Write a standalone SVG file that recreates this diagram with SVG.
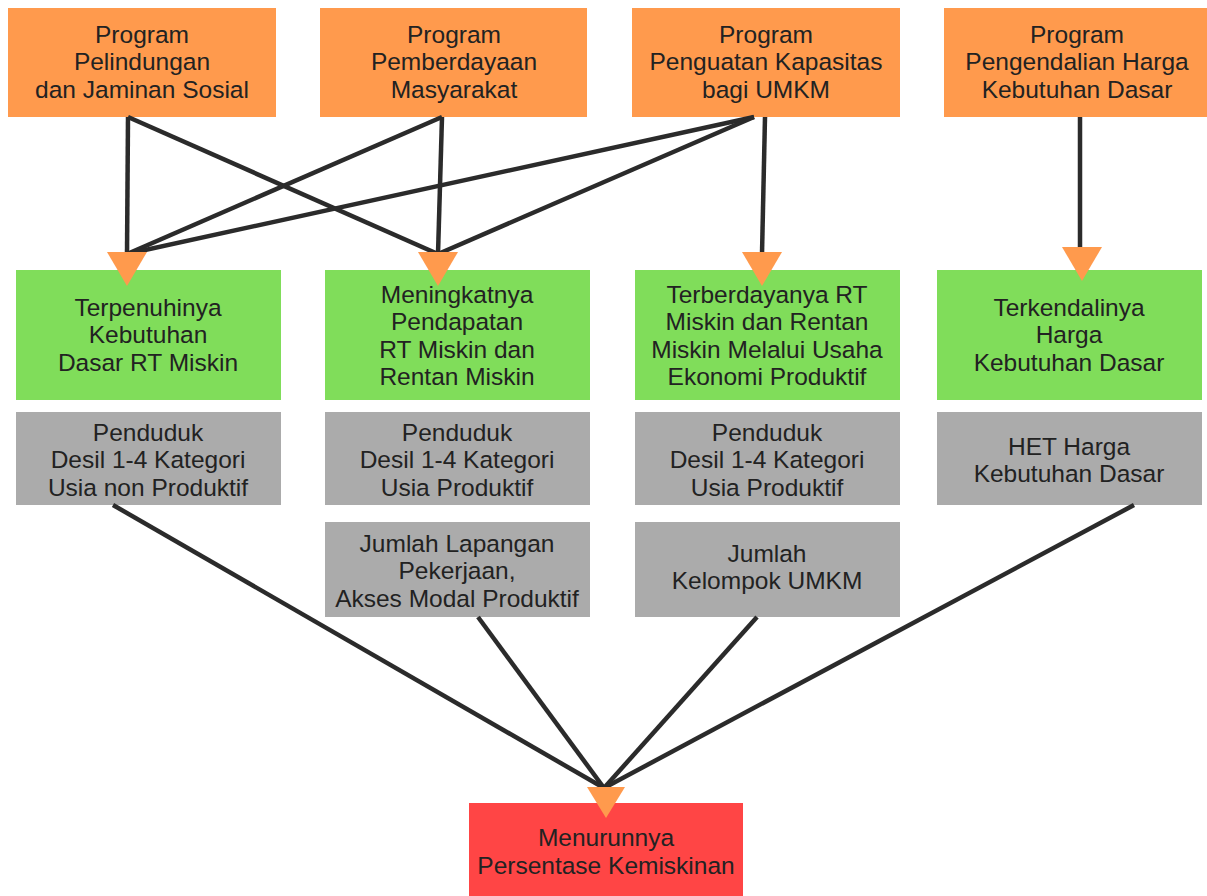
<svg xmlns="http://www.w3.org/2000/svg" width="1207" height="896" viewBox="0 0 1207 896">
<style>
.prog{fill:#FF9A4D}
.out{fill:#80DD5A}
.ind{fill:#ABABAB}
.goal{fill:#FF4545}
text{font-family:"Liberation Sans",Arial,sans-serif;font-size:24.5px;fill:#222;text-anchor:middle}
.c line{stroke:#2B2B2B;stroke-width:4.5}
.arr{fill:#FF9A4D}
</style>
<rect width="1207" height="896" fill="#fff"/>
<g id="p1"><rect class="prog" x="8" y="8" width="268" height="109"/><text x="142" y="43">Program</text><text x="142" y="70">Pelindungan</text><text x="142" y="98">dan Jaminan Sosial</text></g>
<g id="p2"><rect class="prog" x="320" y="8" width="267" height="109"/><text x="454" y="43">Program</text><text x="454" y="70">Pemberdayaan</text><text x="454" y="98">Masyarakat</text></g>
<g id="p3"><rect class="prog" x="632" y="8" width="268" height="109"/><text x="766" y="43">Program</text><text x="766" y="70">Penguatan Kapasitas</text><text x="766" y="98">bagi UMKM</text></g>
<g id="p4"><rect class="prog" x="944" y="8" width="263" height="109"/><text x="1077" y="43">Program</text><text x="1077" y="70">Pengendalian Harga</text><text x="1077" y="98">Kebutuhan Dasar</text></g>

<g id="o1"><rect class="out" x="16" y="270" width="265" height="130"/><text x="148" y="316">Terpenuhinya</text><text x="148" y="343">Kebutuhan</text><text x="148" y="371">Dasar RT Miskin</text></g>
<g id="o2"><rect class="out" x="325" y="270" width="265" height="130"/><text x="457" y="303">Meningkatnya</text><text x="457" y="330">Pendapatan</text><text x="457" y="358">RT Miskin dan</text><text x="457" y="385">Rentan Miskin</text></g>
<g id="o3"><rect class="out" x="635" y="270" width="265" height="130"/><text x="767" y="303">Terberdayanya RT</text><text x="767" y="330">Miskin dan Rentan</text><text x="767" y="358">Miskin Melalui Usaha</text><text x="767" y="385">Ekonomi Produktif</text></g>
<g id="o4"><rect class="out" x="937" y="270" width="265" height="130"/><text x="1069" y="316">Terkendalinya</text><text x="1069" y="343">Harga</text><text x="1069" y="371">Kebutuhan Dasar</text></g>

<g id="i1"><rect class="ind" x="16" y="412" width="265" height="93"/><text x="148" y="441">Penduduk</text><text x="148" y="468">Desil 1-4 Kategori</text><text x="148" y="496">Usia non Produktif</text></g>
<g id="i2"><rect class="ind" x="325" y="412" width="265" height="93"/><text x="457" y="441">Penduduk</text><text x="457" y="468">Desil 1-4 Kategori</text><text x="457" y="496">Usia Produktif</text></g>
<g id="i3"><rect class="ind" x="635" y="412" width="265" height="93"/><text x="767" y="441">Penduduk</text><text x="767" y="468">Desil 1-4 Kategori</text><text x="767" y="496">Usia Produktif</text></g>
<g id="i4"><rect class="ind" x="937" y="412" width="265" height="93"/><text x="1069" y="455">HET Harga</text><text x="1069" y="482">Kebutuhan Dasar</text></g>
<g id="i5"><rect class="ind" x="325" y="522" width="265" height="95"/><text x="457" y="552">Jumlah Lapangan</text><text x="457" y="579">Pekerjaan,</text><text x="457" y="607">Akses Modal Produktif</text></g>
<g id="i6"><rect class="ind" x="635" y="522" width="265" height="95"/><text x="767" y="562">Jumlah</text><text x="767" y="589">Kelompok UMKM</text></g>

<g id="g1"><rect class="goal" x="469" y="803" width="274" height="93"/><text x="606" y="846">Menurunnya</text><text x="606" y="874">Persentase Kemiskinan</text></g>

<g id="connectors" class="c">
<line x1="128" y1="117" x2="127" y2="254"/>
<line x1="128" y1="117" x2="438" y2="254"/>
<line x1="442" y1="117" x2="127" y2="254"/>
<line x1="442" y1="117" x2="438" y2="254"/>
<line x1="754" y1="117" x2="127" y2="254"/>
<line x1="754" y1="117" x2="438" y2="254"/>
<line x1="765" y1="117" x2="762" y2="254"/>
<line x1="1080" y1="117" x2="1080" y2="250"/>
<line x1="113" y1="505" x2="604" y2="788"/>
<line x1="478" y1="617" x2="604" y2="788"/>
<line x1="757" y1="617" x2="604" y2="788"/>
<line x1="1134" y1="505" x2="604" y2="788"/>
<polygon class="arr" points="107,252 147,252 127,286"/>
<polygon class="arr" points="418,252 458,252 438,286"/>
<polygon class="arr" points="742,252 782,252 762,286"/>
<polygon class="arr" points="1062,247 1102,247 1082,281"/>
<polygon class="arr" points="587,787 625,787 606,818"/>
</g>
</svg>
